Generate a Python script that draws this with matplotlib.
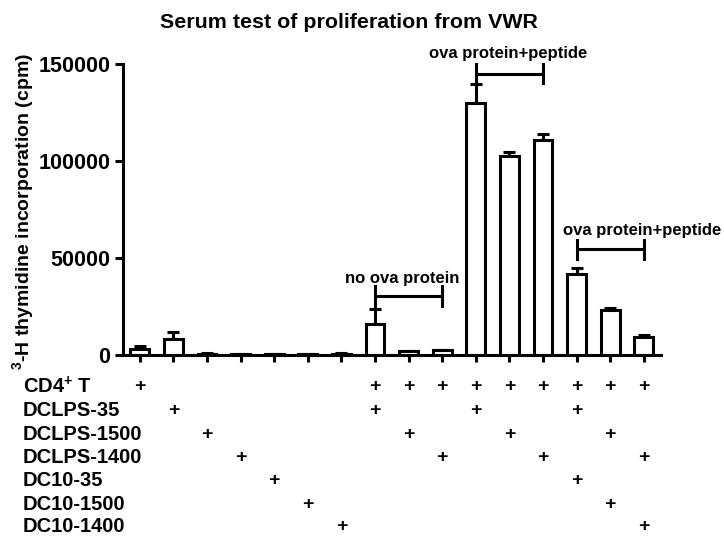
"""
Serum test of proliferation from VWR - 3H thymidine incorporation bar chart
with the culture conditions table drawn underneath.
"""

import numpy as np
import matplotlib
matplotlib.use('Agg')
import matplotlib.pyplot as plt
from matplotlib import transforms

# 1 Data
cpm_mean = [3000, 8000, 700, 500, 400, 400, 700, 16000,
            2000, 2500, 129500, 102500, 110500, 41500, 23000, 9500]
cpm_err = [1500, 4000, 300, 200, 200, 200, 300, 7500,
           300, 300, 10000, 2000, 3000, 3500, 1000, 800]

row_labels = ['CD4$^{+}$ T', 'DCLPS-35', 'DCLPS-1500', 'DCLPS-1400',
              'DC10-35', 'DC10-1500', 'DC10-1400']
# bar numbers (1-based) that carry a "+" in each row
row_members = [
    [1, 8, 9, 10, 11, 12, 13, 14, 15, 16],
    [2, 8, 11, 14],
    [3, 9, 12, 15],
    [4, 10, 13, 16],
    [5, 14],
    [6, 15],
    [7, 16],
]

# brackets: (first bar, last bar, level, label, label x, label y)
brackets = [
    (8, 10, 30300, 'no ova protein', 8.8, 39500),
    (11, 13, 144800, 'ova protein+peptide', 11.95, 155000),
    (14, 16, 54400, 'ova protein+peptide', 15.94, 64200),
]

# 2 Figure set-up
plt.rcParams['font.family'] = ['Liberation Sans', 'DejaVu Sans']
plt.rcParams['font.weight'] = 'bold'
plt.rcParams['mathtext.fontset'] = 'custom'
plt.rcParams['mathtext.rm'] = 'Liberation Sans:bold'
plt.rcParams['mathtext.bf'] = 'Liberation Sans:bold'
plt.rcParams['mathtext.it'] = 'Liberation Sans:bold'
plt.rcParams['mathtext.default'] = 'rm'

W, H = 724, 539
fig = plt.figure(figsize=(W / 100, H / 100), dpi=100)
ax = fig.add_axes([123 / W, 1 - 355 / H, 537.6 / W, 291.5 / H])

lw = 2.2
x = np.arange(1, len(cpm_mean) + 1)
ax.bar(x, cpm_mean, width=0.56, facecolor='white', edgecolor='black',
       linewidth=lw, zorder=3)
ax.errorbar(x, cpm_mean, yerr=[np.zeros(len(cpm_err)), cpm_err], fmt='none',
            ecolor='black', elinewidth=lw, capsize=4.5, capthick=lw, zorder=2)

ax.set_xlim(0.5, 16.5)
ax.set_ylim(0, 150000)
ax.set_yticks([0, 50000, 100000, 150000])
ax.set_xticks(x)
ax.set_xticklabels([])
ax.tick_params(axis='y', length=6, width=lw, labelsize=15.5, pad=3)
ax.tick_params(axis='x', length=5, width=lw)
for lab in ax.get_yticklabels():
    lab.set_fontweight('bold')
for s in ['top', 'right']:
    ax.spines[s].set_visible(False)
for s in ['left', 'bottom']:
    ax.spines[s].set_linewidth(lw)

# 3 Brackets over groups of bars
for b0, b1, lev, txt, tx, ty in brackets:
    half = 5000
    ax.plot([b0, b1], [lev, lev], color='black', lw=lw, clip_on=False,
            solid_capstyle='butt')
    top_err = cpm_mean[b0 - 1] + cpm_err[b0 - 1]
    ax.plot([b0, b0], [lev + half, max(lev - half, top_err)], color='black',
            lw=lw, clip_on=False)
    ax.plot([b1, b1], [lev + half, lev - half], color='black', lw=lw,
            clip_on=False)
    ax.text(tx, ty, txt, ha='center', va='center', fontsize=12,
            fontweight='bold', clip_on=False)

# 4 Condition table below the axis
trans = transforms.blended_transform_factory(ax.transData, fig.transFigure)
row_y = [387, 410.5, 434, 457.5, 481, 504, 527]
for label, members, yp in zip(row_labels, row_members, row_y):
    fig.text(23 / W, 1 - yp / H, label, ha='left', va='center', fontsize=14.5,
             fontweight='bold')
    for m in members:
        ax.text(m, 1 - yp / H, '+', transform=trans, ha='center',
                va='center', fontsize=14, fontweight='bold', clip_on=False)

# 5 Titles
fig.text(349 / W, 1 - 22 / H, 'Serum test of proliferation from VWR',
         ha='center', va='center', fontsize=15.4, fontweight='bold')
fig.text(23 / W, 1 - 212 / H, '$^{3}$-H thymidine incorporation (cpm)',
         ha='center', va='center', rotation=90, fontsize=14,
         fontweight='bold')

fig.savefig('out.png', dpi=100)
